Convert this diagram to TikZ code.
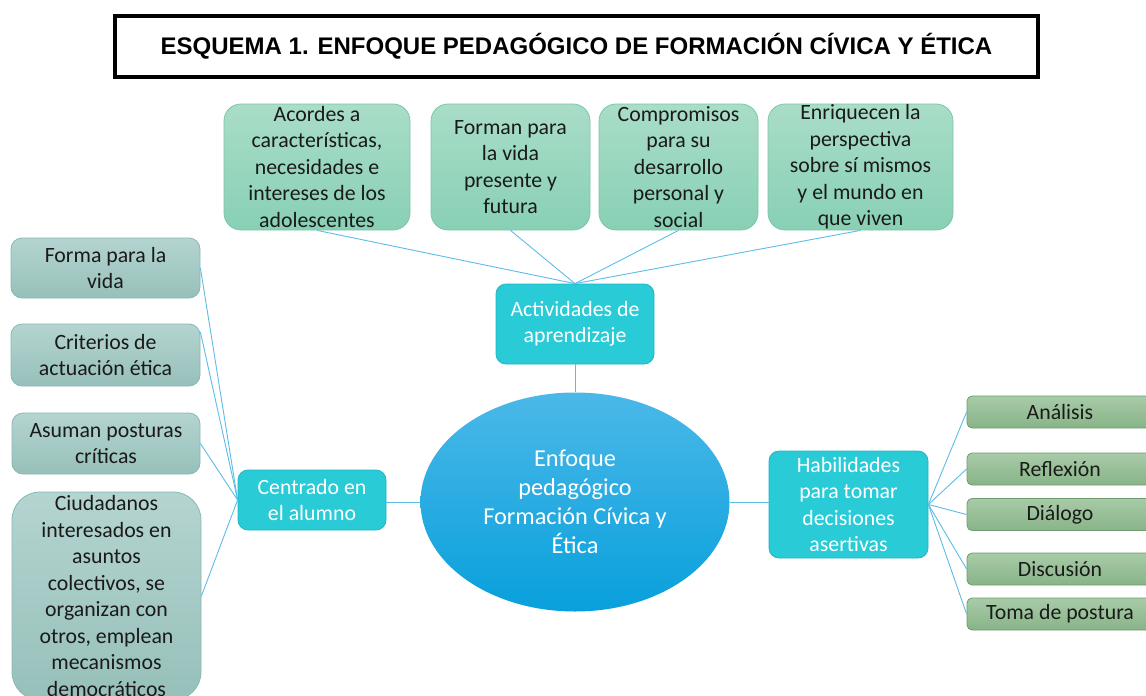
\documentclass[tikz,border=0pt]{standalone}
\usepackage{fontspec}
\setmainfont{Carlito}
\newfontfamily\titlefont{Liberation Sans}
\usetikzlibrary{shapes.geometric}
\definecolor{linec}{HTML}{5BBDE8}
\definecolor{topA}{HTML}{A9DDC8}
\definecolor{topB}{HTML}{88D0B5}
\definecolor{topD}{HTML}{7CC6A9}
\definecolor{lefA}{HTML}{B4D4D0}
\definecolor{lefB}{HTML}{97C0BA}
\definecolor{lefD}{HTML}{8AB8B2}
\definecolor{rigA}{HTML}{A8CBA8}
\definecolor{rigB}{HTML}{88B488}
\definecolor{rigD}{HTML}{6E9E6E}
\definecolor{cyanF}{HTML}{29CBD7}
\definecolor{cyanD}{HTML}{20B6C2}
\definecolor{ellA}{HTML}{4BB8E8}
\definecolor{ellB}{HTML}{08A0DC}
\definecolor{txt}{HTML}{1A1A1A}
\tikzset{
  boxfont/.style={font=\fontsize{21.8}{26.5}\selectfont},
  basebox/.style={boxfont, rectangle, align=center, inner sep=0pt, line width=0.8pt, text=txt},
  topbox/.style={basebox, rounded corners=17pt, top color=topA, bottom color=topB, draw=topD, minimum height=126pt},
  leftbox/.style={basebox, rounded corners=11pt, top color=lefA, bottom color=lefB, draw=lefD, minimum width=189pt},
  rightbox/.style={basebox, rounded corners=5pt, top color=rigA, bottom color=rigB, draw=rigD, minimum width=186pt, minimum height=32pt},
  cyanbox/.style={basebox, rounded corners=10pt, fill=cyanF, draw=cyanD, text=white},
  conn/.style={draw=linec, line width=0.9pt},
}
\begin{document}
\begin{tikzpicture}[x=1pt,y=-1pt]
\useasboundingbox (0,0) rectangle (1146,696);
\fill[white] (0,0) rectangle (1146,696);

% title
\node[draw=black, line width=4pt, minimum width=923pt, minimum height=61pt, inner sep=0pt,
      font=\titlefont\bfseries\fontsize{24}{28}\selectfont] (title) at (576.5,46.5)
  {ESQUEMA 1. ENFOQUE PEDAGÓGICO DE FORMACIÓN CÍVICA Y ÉTICA};

% top boxes
\node[topbox, minimum width=186pt] (t1) at (317,167) {Acordes a\\características,\\necesidades e\\intereses de los\\adolescentes};
\node[topbox, minimum width=159pt] (t2) at (510.5,167) {Forman para\\la vida\\presente y\\futura};
\node[topbox, minimum width=159pt] (t3) at (678.5,167) {Compromisos\\para su\\desarrollo\\personal y\\social};
\node[topbox, minimum width=185pt] (t4) at (860.5,167) {Enriquecen la\\perspectiva\\sobre sí mismos\\y el mundo en\\que viven};

% actividades
\node[cyanbox, minimum width=158pt, minimum height=80pt] (act) at (575,324) {Actividades de\\aprendizaje};

% ellipse
\node[ellipse, minimum width=309pt, minimum height=219pt, inner sep=0pt, top color=ellA, bottom color=ellB,
      draw=none, text=white, align=center, font=\fontsize{24.3}{29}\selectfont] (ell) at (575,502)
  {Enfoque\\pedagógico\\Formación Cívica y\\Ética};

% centrado
\node[cyanbox, minimum width=148pt, minimum height=60pt] (cen) at (312,500) {Centrado en\\el alumno};

% left boxes
\node[leftbox, minimum height=60pt] (l1) at (105.5,268) {Forma para la\\vida};
\node[leftbox, minimum height=62pt] (l2) at (105.5,355) {Criterios de\\actuación ética};
\node[leftbox, minimum width=188pt, minimum height=61pt] (l3) at (106,443.5) {Asuman posturas\\críticas};
\node[leftbox, rounded corners=28pt, minimum height=208pt] (l4) at (106.5,596) {Ciudadanos\\interesados en\\asuntos\\colectivos, se\\organizan con\\otros, emplean\\mecanismos\\democráticos};

% habilidades
\node[cyanbox, minimum width=159pt, minimum height=107pt] (hab) at (848.5,504.5) {Habilidades\\para tomar\\decisiones\\asertivas};

% right boxes
\node[rightbox] (r1) at (1060,412) {Análisis};
\node[rightbox] (r2) at (1060,469) {Reflexión};
\node[rightbox] (r3) at (1060,514.5) {Diálogo};
\node[rightbox] (r4) at (1060,569) {Discusión};
\node[rightbox] (r5) at (1060,614) {Toma de postura};

% connectors
\foreach \t in {t1,t2,t3,t4} \draw[conn] (\t.south) -- (act.north);
\draw[conn] (act.south) -- (ell.north);
\draw[conn] (ell.west) -- (ell.west -| cen.east);
\draw[conn] (ell.east) -- (ell.east -| hab.west);
\draw[conn] (cen.west) -- (l1.east);
\draw[conn] (cen.west) -- ([yshift=23pt]l2.east);
\draw[conn] (cen.west) -- (l3.east);
\draw[conn] (cen.west) -- (l4.east);
\foreach \r in {r1,r2,r3,r4,r5} \draw[conn] (hab.east) -- (\r.west);
\end{tikzpicture}
\end{document}
